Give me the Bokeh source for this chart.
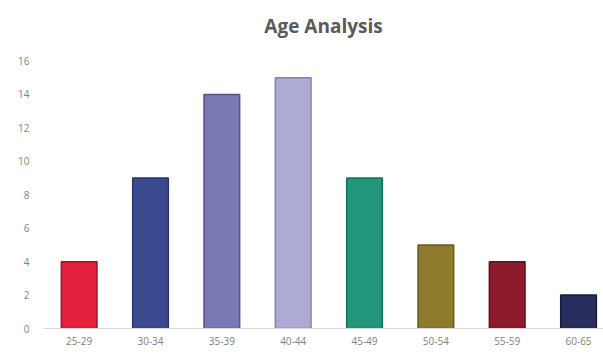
from bokeh.plotting import figure
from bokeh.models import Range1d, FixedTicker, ColumnDataSource
from bokeh.embed import file_html
from bokeh.resources import INLINE

categories = ["25-29", "30-34", "35-39", "40-44", "45-49", "50-54", "55-59", "60-65"]
counts = [4, 9, 14, 15, 9, 5, 4, 2]
y_ticks = [0, 2, 4, 6, 8, 10, 12, 14, 16]

fill_colors = ["#E3213D", "#3B4A8E", "#7878B4", "#AEAAD6", "#22977B", "#8E7B2E", "#8E1B2C", "#282E5E"]
edge_colors = ["#9E1428", "#28336A", "#55558A", "#8480AE", "#16705A", "#675820", "#63111D", "#181C40"]

xs = list(range(len(categories)))
src = ColumnDataSource(dict(x=xs, top=counts, fill=fill_colors, edge=edge_colors))

p = figure(width=603, height=361, output_backend="svg", toolbar_location=None,
           x_range=Range1d(-0.5, 7.35), y_range=Range1d(0, 17.05),
           title="Age Analysis", min_border_left=43, min_border_right=0,
           min_border_top=43, min_border_bottom=33)
p.outline_line_color = None
p.background_fill_color = "white"
p.border_fill_color = "white"

p.title.align = "center"
p.title.text_font = "Open Sans"
p.title.text_font_size = "19px"
p.title.text_font_style = "bold"
p.title.text_color = "#5A5A5A"
p.title.offset = -4

p.vbar(x="x", top="top", width=0.5, bottom=0, source=src,
       fill_color="fill", line_color="edge", line_width=1.5)

p.xgrid.visible = False
p.ygrid.visible = False

p.xaxis.ticker = FixedTicker(ticks=xs)
p.xaxis.major_label_overrides = {i: c for i, c in enumerate(categories)}
p.xaxis.axis_line_color = "#D9D9D9"
p.xaxis.major_tick_line_color = None
p.xaxis.minor_tick_line_color = None
p.xaxis.major_label_text_color = "#7F7F7F"
p.xaxis.major_label_text_font = "Open Sans"
p.xaxis.major_label_text_font_size = "10px"
p.xaxis.major_label_standoff = 2

p.yaxis.ticker = FixedTicker(ticks=y_ticks)
p.yaxis.axis_line_color = None
p.yaxis.major_tick_line_color = None
p.yaxis.minor_tick_line_color = None
p.yaxis.major_label_text_color = "#7F7F7F"
p.yaxis.major_label_text_font = "Open Sans"
p.yaxis.major_label_text_font_size = "10px"
p.yaxis.major_label_standoff = 8

open("out.html", "w").write(file_html(p, INLINE))
